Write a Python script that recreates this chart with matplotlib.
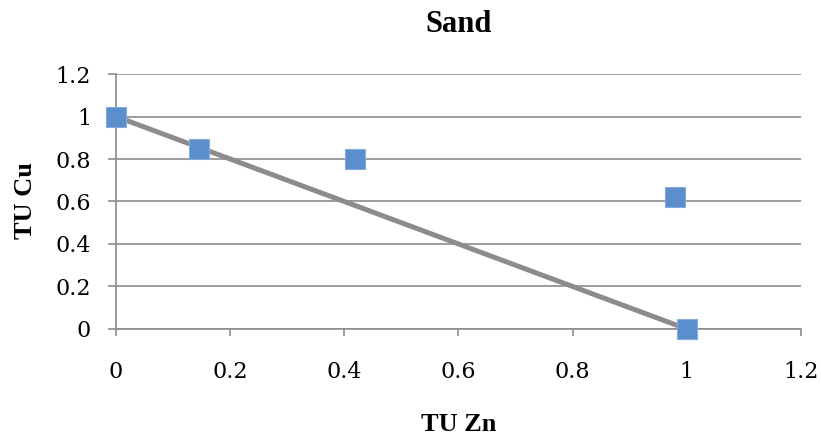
import matplotlib
matplotlib.use("Agg")
import matplotlib.pyplot as plt

# measured points
tu_zn = [0.0, 0.145, 0.419, 0.979, 1.0]
tu_cu = [1.0, 0.847, 0.80, 0.62, 0.0]

# straight reference line between the pure-metal end points
line_zn = [0.0, 1.0]
line_cu = [1.0, 0.0]

ticks = [0, 0.2, 0.4, 0.6, 0.8, 1, 1.2]
tick_labels = ["0", "0.2", "0.4", "0.6", "0.8", "1", "1.2"]

fig = plt.figure(figsize=(8.21, 4.4), dpi=100)
ax = fig.add_axes([0.1413, 0.2523, 0.8343, 0.5795])

grid_col = "#8c8c8c"
ax.plot(line_zn, line_cu, color="#8c8c8c", linewidth=3.6, zorder=2,
        solid_capstyle="butt")
ax.plot(tu_zn, tu_cu, linestyle="none", marker="s", markersize=14,
        markerfacecolor="#5a8fcc", markeredgecolor="#86aadb",
        markeredgewidth=0.8, zorder=3, clip_on=False)

ax.set_xlim(0, 1.2)
ax.set_ylim(0, 1.2)
ax.set_xticks(ticks)
ax.set_xticklabels(tick_labels)
ax.set_yticks(ticks)
ax.set_yticklabels(tick_labels)
ax.yaxis.grid(True, color=grid_col, linewidth=1.2)
ax.set_axisbelow(True)

for side in ("top", "right"):
    ax.spines[side].set_visible(False)
for side in ("left", "bottom"):
    ax.spines[side].set_color(grid_col)
    ax.spines[side].set_linewidth(1.2)

tick_font = {"family": "DejaVu Serif", "size": 16}
for lab in ax.get_xticklabels() + ax.get_yticklabels():
    lab.set_fontfamily(tick_font["family"])
    lab.set_fontsize(tick_font["size"])

ax.tick_params(axis="x", direction="out", length=5, width=1.2, color=grid_col,
               pad=18)
ax.tick_params(axis="y", direction="out", length=6, width=1.2, color=grid_col,
               pad=12)

label_font = ["Liberation Serif", "DejaVu Serif"]
ax.set_title("Sand", fontsize=22, fontweight="bold", family=label_font, pad=30)
ax.set_xlabel("TU Zn", fontsize=19, fontweight="bold", family=label_font)
ax.set_ylabel("TU Cu", fontsize=19, fontweight="bold", family=label_font)
ax.xaxis.set_label_coords(0.5, -0.33)
ax.yaxis.set_label_coords(-0.1153, 0.502)

fig.savefig("out.png", dpi=100)
